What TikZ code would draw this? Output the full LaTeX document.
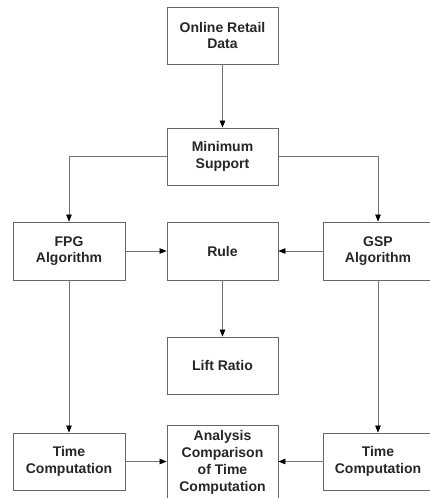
\documentclass[tikz,border=0pt]{standalone}
\usepackage{fontspec}
\setmainfont{Liberation Sans}
\usetikzlibrary{arrows.meta}
\begin{document}
\begin{tikzpicture}[x=1pt,y=-1pt,
  box/.style={draw=black!60,line width=0.8pt,rectangle,minimum width=111pt,minimum height=57pt,
    inner sep=0pt,align=center,font=\fontsize{14}{16.8}\selectfont\bfseries,text=black!85},
  conn/.style={draw=black!55,line width=0.7pt,-{Triangle[length=7pt,width=5.5pt,fill=black,color=black]}}]
\useasboundingbox (0,0) rectangle (430,498);
\clip (0,0) rectangle (430,498);
\node[box] (data) at (222.5,35.5) {Online Retail\\Data};
\node[box] (minsup) at (222.5,156.5) {Minimum\\Support};
\node[box,minimum width=112pt,minimum height=58pt] (fpg) at (69,251) {FPG\\Algorithm};
\node[box,minimum height=58pt] (rule) at (222.5,251) {Rule};
\node[box,minimum width=110pt,minimum height=58pt] (gsp) at (378,251) {GSP\\Algorithm};
\node[box] (lift) at (222.5,365.5) {Lift Ratio};
\node[box,minimum width=112pt] (timel) at (69,461.5) {Time\\Computation};
\node[box,minimum height=75pt] (anal) at (222.5,462.5) {Analysis\\Comparison\\of Time\\Computation};
\node[box,minimum width=110pt] (timer) at (378,461.5) {Time\\Computation};
\draw[conn] (data) -- (minsup);
\draw[conn] (minsup.west) -| (fpg.north);
\draw[conn] (minsup.east) -| (gsp.north);
\draw[conn] (fpg) -- (rule);
\draw[conn] (gsp) -- (rule);
\draw[conn] (rule) -- (lift);
\draw[conn] (fpg) -- (timel);
\draw[conn] (gsp) -- (timer);
\draw[conn] (timel) -- (timel -| anal.west);
\draw[conn] (timer) -- (timer -| anal.east);
\end{tikzpicture}
\end{document}
